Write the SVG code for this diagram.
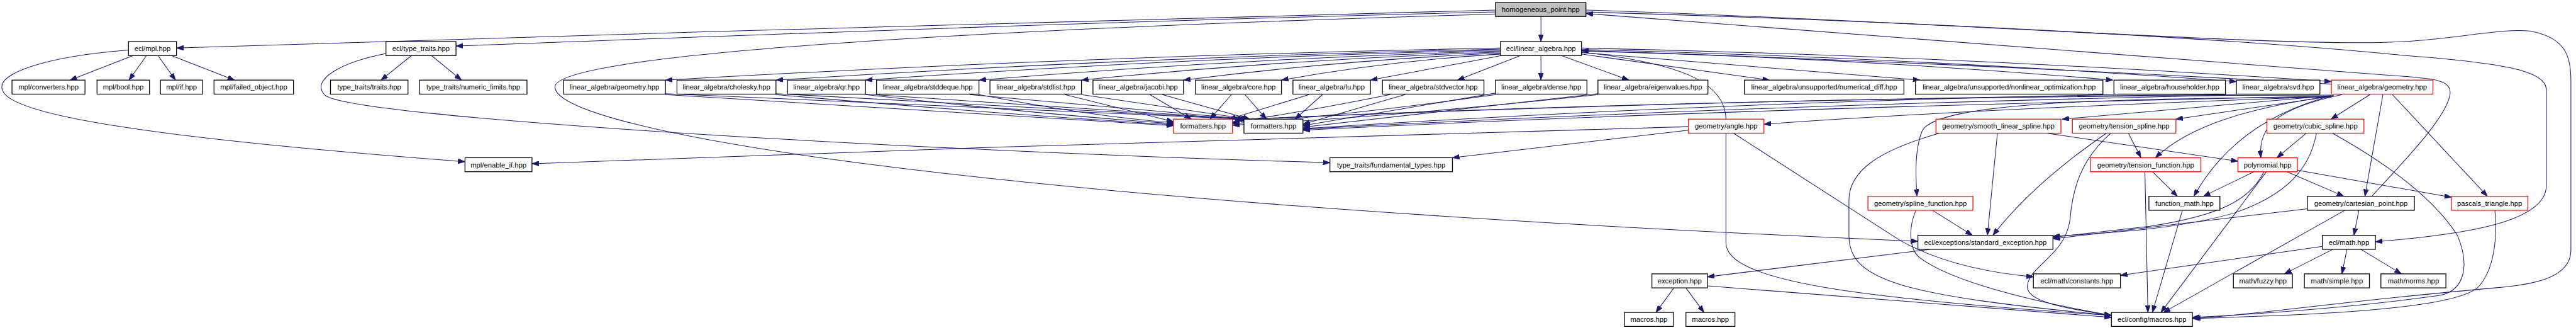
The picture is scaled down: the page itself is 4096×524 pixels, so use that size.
<svg xmlns="http://www.w3.org/2000/svg" width="4096" height="524" viewBox="0 0 4096 524">
<style>
.n rect{fill:#fff;stroke:#000;stroke-width:1.6}
.r rect{stroke:#f00}
.g rect{fill:#bfbfbf}
text{font-family:"Liberation Sans",Arial,sans-serif;font-size:14.2px;text-anchor:middle;fill:#000}
#edges path{fill:none;stroke:#191970;stroke-width:1.3;marker-end:url(#ah)}
</style>
<defs>
<marker id="ah" viewBox="0 0 14 10" refX="14" refY="5" markerWidth="14" markerHeight="10" markerUnits="userSpaceOnUse" orient="auto"><path d="M0,0 L14,5 L0,10 z" fill="#191970" stroke="#191970" stroke-width="1"/></marker>
</defs>
<rect width="4096" height="524" fill="#fff"/>
<g transform="scale(0.795)">
<g id="edges">
<path d="M3082,33 L3082,83"/>
<path d="M2991,20 C 2300,35 1200,70 353,96"/>
<path d="M2991,24 C 2300,40 1500,70 912,92"/>
<path d="M2991,28 C 1900,60 1100,110 1110,175 C 1120,260 1900,400 3836,482"/>
<path d="M3172,20 C 3800,40 4500,90 4760,85 C 4900,82 5000,55 5060,62 C 5130,75 5142,110 5142,160 L5142,500 C 5142,560 5050,570 4990,575 C 4700,600 4500,630 4387,636"/>
<path d="M3172,24 C 3900,45 4500,80 4800,110 C 5000,125 5093,140 5093,180 L5093,370 C 5093,450 4900,470 4751,483"/>
<path d="M4744,392 C 4800,330 4890,240 4900,190 C 4905,160 4870,157 4800,152 C 4200,110 3600,60 3172,27"/>
<path d="M266,111 L140,160"/>
<path d="M293,111 L258,160"/>
<path d="M316,111 L351,160"/>
<path d="M343,111 L469,160"/>
<path d="M257,100 C 100,112 -10,145 5,180 C 20,230 300,275 930,323"/>
<path d="M823,111 L762,160"/>
<path d="M863,111 L923,160"/>
<path d="M772,107 C 680,125 620,160 650,190 C 700,235 1800,300 2660,325"/>
<path d="M3001,96 Q 2166,112 1331,160"/>
<path d="M3001,98 Q 2276,114 1552,160"/>
<path d="M3001,100 Q 2366,115 1731,160"/>
<path d="M3001,102 Q 2480,117 1958,160"/>
<path d="M3001,104 Q 2582,118 2163,160"/>
<path d="M3001,106 Q 2684,120 2367,160"/>
<path d="M3001,108 Q 2782,121 2563,160"/>
<path d="M3003,111 L2741,160"/>
<path d="M3041,111 L2915,160"/>
<path d="M3082,111 L3082,160"/>
<path d="M3123,111 L3258,160"/>
<path d="M3163,108 L3539,160"/>
<path d="M3163,105 L3840,160"/>
<path d="M3163,102 Q 3700,115 4226,160"/>
<path d="M3163,99 Q 3820,115 4473,163"/>
<path d="M3163,96 Q 3910,112 4663,163"/>
<path d="M4663,168 Q 3900,125 3163,101"/>
<path d="M3163,104 C 3350,125 3452,160 3452,240 L3452,485 C 3452,560 3700,595 4223,630"/>
<path d="M1331,189 Q 1900,225 2347,251"/>
<path d="M1331,187 Q 2000,215 2490,238"/>
<path d="M1552,189 Q 2000,228 2347,249"/>
<path d="M1552,187 Q 2100,215 2492,238"/>
<path d="M1731,189 Q 2100,230 2347,247"/>
<path d="M1731,188 Q 2200,218 2494,238"/>
<path d="M1958,189 Q 2200,235 2347,245"/>
<path d="M1940,189 L2496,238"/>
<path d="M2130,189 L2347,243"/>
<path d="M2163,189 L2498,238"/>
<path d="M2300,189 L2383,238"/>
<path d="M2325,189 L2500,238"/>
<path d="M2463,189 L2420,238"/>
<path d="M2490,189 L2533,238"/>
<path d="M2618,189 L2458,238"/>
<path d="M2645,189 L2590,238"/>
<path d="M2780,189 Q 2600,225 2465,244"/>
<path d="M2810,189 L2606,248"/>
<path d="M2991,189 Q 2700,230 2465,247"/>
<path d="M2991,186 L2606,251"/>
<path d="M3196,189 Q 2800,232 2465,250"/>
<path d="M3196,187 L2606,254"/>
<path d="M4228,189 Q 3400,205 2606,257"/>
<path d="M4473,189 Q 3500,195 2470,239"/>
<path d="M4473,190 Q 3500,210 2606,258"/>
<path d="M4663,190 Q 3500,192 2474,239"/>
<path d="M4663,192 Q 3500,215 2606,260"/>
<path d="M4663,193 Q 4000,215 3528,248"/>
<path d="M4663,191 L4124,238"/>
<path d="M4665,192 L4352,238"/>
<path d="M4740,189 L4662,238"/>
<path d="M4684,189 C 4560,215 4515,250 4522,315"/>
<path d="M4668,190 C 4550,220 4450,280 4388,392"/>
<path d="M4660,192 C 4500,215 4380,250 4311,315"/>
<path d="M4663,194 C 4200,196 3880,205 3845,260 C 3828,300 3832,360 3834,392"/>
<path d="M4766,189 L4730,392"/>
<path d="M4785,189 L4975,392"/>
<path d="M3377,253 C 2800,265 1800,300 1064,327"/>
<path d="M3377,260 L2905,315"/>
<path d="M3467,266 L3800,480 C 3880,525 3980,545 4067,553"/>
<path d="M3879,266 C 3760,300 3698,340 3698,400 L3698,470 C 3698,560 3800,590 4223,630"/>
<path d="M3995,266 L3975,470"/>
<path d="M4093,266 L4476,322"/>
<path d="M4257,266 L4282,315"/>
<path d="M4213,266 C 4120,330 4040,400 3986,470"/>
<path d="M4222,266 C 4160,320 4145,380 4140,440 C 4130,510 4060,530 4055,570 C 4050,600 4120,615 4223,630"/>
<path d="M4290,343 L4296,624"/>
<path d="M4305,343 L4355,392"/>
<path d="M4613,266 L4554,315"/>
<path d="M4633,266 C 4620,340 4570,390 4470,425 C 4350,460 4200,466 4106,472"/>
<path d="M4665,266 C 4780,330 4870,400 4915,470 C 4940,530 4930,580 4880,590 C 4700,615 4500,628 4385,634"/>
<path d="M4508,343 L4407,392"/>
<path d="M4533,343 L4322,624"/>
<path d="M4574,343 L4688,392"/>
<path d="M4595,340 L4903,394"/>
<path d="M4528,343 C 4500,400 4440,430 4300,452 L4106,474"/>
<path d="M4718,420 L4708,470"/>
<path d="M4690,420 L4327,624"/>
<path d="M4615,417 L4106,477"/>
<path d="M3865,420 L3945,470"/>
<path d="M3832,420 C 3815,460 3820,500 3840,515 C 3900,560 4050,600 4223,630"/>
<path d="M4365,420 L4305,624"/>
<path d="M4990,420 C 4995,470 4990,540 4955,575 C 4900,620 4600,630 4385,636"/>
<path d="M4666,498 L4569,547"/>
<path d="M4694,498 L4684,547"/>
<path d="M4722,498 L4803,547"/>
<path d="M4645,492 L4241,550"/>
<path d="M3860,498 L3415,553"/>
<path d="M3348,575 L3312,624"/>
<path d="M3372,575 L3408,624"/>
<path d="M3415,571 L4223,634"/>
</g>
<g id="n_hp" class="n g"><rect x="2991" y="5" width="181" height="28"/><text x="3081.5" y="24">homogeneous_point.hpp</text></g>
<g id="n_mpl" class="n"><rect x="257" y="83" width="96" height="28"/><text x="305" y="102">ecl/mpl.hpp</text></g>
<g id="n_tt" class="n"><rect x="772" y="83" width="140" height="28"/><text x="842" y="102">ecl/type_traits.hpp</text></g>
<g id="n_la" class="n"><rect x="3001" y="83" width="162" height="28"/><text x="3082" y="102">ecl/linear_algebra.hpp</text></g>
<g id="n_conv" class="n"><rect x="24" y="160" width="146" height="28"/><text x="97" y="179">mpl/converters.hpp</text></g>
<g id="n_bool" class="n"><rect x="194" y="160" width="105" height="28"/><text x="246.5" y="179">mpl/bool.hpp</text></g>
<g id="n_if" class="n"><rect x="321" y="160" width="84" height="28"/><text x="363" y="179">mpl/if.hpp</text></g>
<g id="n_failed" class="n"><rect x="428" y="160" width="159" height="28"/><text x="507.5" y="179">mpl/failed_object.hpp</text></g>
<g id="n_traits" class="n"><rect x="661" y="160" width="155" height="28"/><text x="738.5" y="179">type_traits/traits.hpp</text></g>
<g id="n_numlim" class="n"><rect x="839" y="160" width="215" height="28"/><text x="946.5" y="179">type_traits/numeric_limits.hpp</text></g>
<g id="n_geomb" class="n"><rect x="1127" y="160" width="204" height="28"/><text x="1229" y="179">linear_algebra/geometry.hpp</text></g>
<g id="n_chol" class="n"><rect x="1354" y="160" width="198" height="28"/><text x="1453" y="179">linear_algebra/cholesky.hpp</text></g>
<g id="n_qr" class="n"><rect x="1575" y="160" width="156" height="28"/><text x="1653" y="179">linear_algebra/qr.hpp</text></g>
<g id="n_deque" class="n"><rect x="1753" y="160" width="205" height="28"/><text x="1855.5" y="179">linear_algebra/stddeque.hpp</text></g>
<g id="n_list" class="n"><rect x="1980" y="160" width="183" height="28"/><text x="2071.5" y="179">linear_algebra/stdlist.hpp</text></g>
<g id="n_jacobi" class="n"><rect x="2186" y="160" width="181" height="28"/><text x="2276.5" y="179">linear_algebra/jacobi.hpp</text></g>
<g id="n_core" class="n"><rect x="2391" y="160" width="172" height="28"/><text x="2477" y="179">linear_algebra/core.hpp</text></g>
<g id="n_lu" class="n"><rect x="2586" y="160" width="155" height="28"/><text x="2663.5" y="179">linear_algebra/lu.hpp</text></g>
<g id="n_vector" class="n"><rect x="2765" y="160" width="203" height="28"/><text x="2866.5" y="179">linear_algebra/stdvector.hpp</text></g>
<g id="n_dense" class="n"><rect x="2991" y="160" width="183" height="28"/><text x="3082.5" y="179">linear_algebra/dense.hpp</text></g>
<g id="n_eigen" class="n"><rect x="3196" y="160" width="220" height="28"/><text x="3306" y="179">linear_algebra/eigenvalues.hpp</text></g>
<g id="n_numdiff" class="n"><rect x="3489" y="160" width="319" height="28"/><text x="3648.5" y="179">linear_algebra/unsupported/numerical_diff.hpp</text></g>
<g id="n_nonlin" class="n"><rect x="3831" y="160" width="375" height="28"/><text x="4018.5" y="179">linear_algebra/unsupported/nonlinear_optimization.hpp</text></g>
<g id="n_house" class="n"><rect x="4228" y="160" width="223" height="28"/><text x="4339.5" y="179">linear_algebra/householder.hpp</text></g>
<g id="n_svd" class="n"><rect x="4473" y="160" width="167" height="28"/><text x="4556.5" y="179">linear_algebra/svd.hpp</text></g>
<g id="n_geomr" class="n r"><rect x="4663" y="160" width="203" height="28"/><text x="4764.5" y="179">linear_algebra/geometry.hpp</text></g>
<g id="n_fmtr" class="n r"><rect x="2347" y="238" width="118" height="28"/><text x="2406" y="257">formatters.hpp</text></g>
<g id="n_fmtb" class="n"><rect x="2488" y="238" width="118" height="28"/><text x="2547" y="257">formatters.hpp</text></g>
<g id="n_angle" class="n r"><rect x="3377" y="238" width="151" height="28"/><text x="3452.5" y="257">geometry/angle.hpp</text></g>
<g id="n_smooth" class="n r"><rect x="3872" y="238" width="250" height="28"/><text x="3997" y="257">geometry/smooth_linear_spline.hpp</text></g>
<g id="n_tspline" class="n r"><rect x="4145" y="238" width="207" height="28"/><text x="4248.5" y="257">geometry/tension_spline.hpp</text></g>
<g id="n_cubic" class="n r"><rect x="4534" y="238" width="194" height="28"/><text x="4631" y="257">geometry/cubic_spline.hpp</text></g>
<g id="n_enable" class="n"><rect x="930" y="315" width="134" height="28"/><text x="997" y="334">mpl/enable_if.hpp</text></g>
<g id="n_fund" class="n"><rect x="2660" y="315" width="245" height="28"/><text x="2782.5" y="334">type_traits/fundamental_types.hpp</text></g>
<g id="n_tfunc" class="n r"><rect x="4181" y="315" width="221" height="28"/><text x="4291.5" y="334">geometry/tension_function.hpp</text></g>
<g id="n_poly" class="n r"><rect x="4476" y="315" width="119" height="28"/><text x="4535.5" y="334">polynomial.hpp</text></g>
<g id="n_splinef" class="n r"><rect x="3736" y="392" width="210" height="28"/><text x="3841" y="411">geometry/spline_function.hpp</text></g>
<g id="n_fmath" class="n"><rect x="4298" y="392" width="142" height="28"/><text x="4369" y="411">function_math.hpp</text></g>
<g id="n_cart" class="n"><rect x="4615" y="392" width="214" height="28"/><text x="4722" y="411">geometry/cartesian_point.hpp</text></g>
<g id="n_pascal" class="n r"><rect x="4903" y="392" width="153" height="28"/><text x="4979.5" y="411">pascals_triangle.hpp</text></g>
<g id="n_stdexc" class="n"><rect x="3836" y="470" width="270" height="28"/><text x="3971" y="489">ecl/exceptions/standard_exception.hpp</text></g>
<g id="n_emath" class="n"><rect x="4645" y="470" width="106" height="28"/><text x="4698" y="489">ecl/math.hpp</text></g>
<g id="n_exc" class="n"><rect x="3304" y="547" width="111" height="28"/><text x="3359.5" y="566">exception.hpp</text></g>
<g id="n_const" class="n"><rect x="4067" y="547" width="174" height="28"/><text x="4154" y="566">ecl/math/constants.hpp</text></g>
<g id="n_fuzzy" class="n"><rect x="4467" y="547" width="118" height="28"/><text x="4526" y="566">math/fuzzy.hpp</text></g>
<g id="n_simple" class="n"><rect x="4609" y="547" width="130" height="28"/><text x="4674" y="566">math/simple.hpp</text></g>
<g id="n_norms" class="n"><rect x="4762" y="547" width="130" height="28"/><text x="4827" y="566">math/norms.hpp</text></g>
<g id="n_mac1" class="n"><rect x="3249" y="624" width="98" height="28"/><text x="3298" y="643">macros.hpp</text></g>
<g id="n_mac2" class="n"><rect x="3372" y="624" width="98" height="28"/><text x="3421" y="643">macros.hpp</text></g>
<g id="n_cfg" class="n"><rect x="4223" y="624" width="162" height="28"/><text x="4304" y="643">ecl/config/macros.hpp</text></g>
</g>
</svg>
